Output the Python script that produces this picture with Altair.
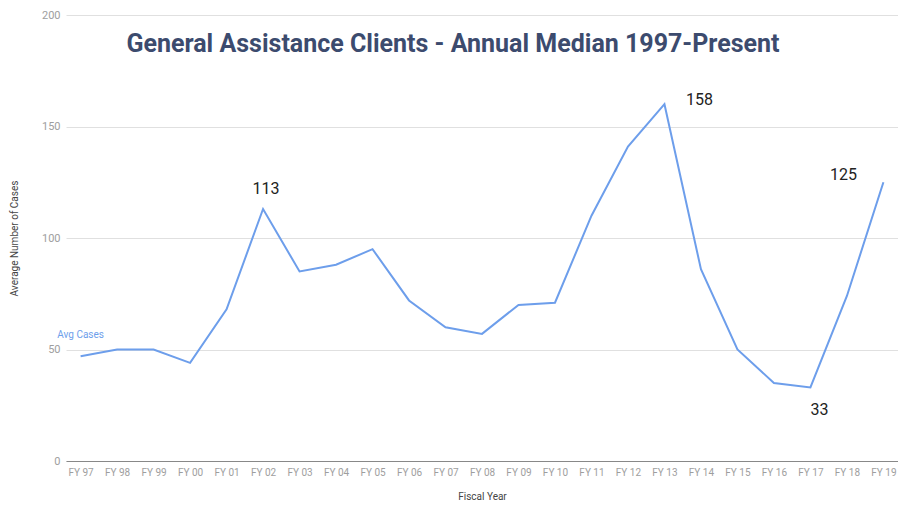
import altair as alt
import pandas as pd

years = ["FY 97", "FY 98", "FY 99", "FY 00", "FY 01", "FY 02", "FY 03", "FY 04",
         "FY 05", "FY 06", "FY 07", "FY 08", "FY 09", "FY 10", "FY 11", "FY 12",
         "FY 13", "FY 14", "FY 15", "FY 16", "FY 17", "FY 18", "FY 19"]
cases = [47, 50, 50, 44, 68, 113, 85, 88, 95, 72, 60, 57, 70, 71, 110, 141,
         160, 86, 50, 35, 33, 74, 125]

ann_years = ["FY 02", "FY 13", "FY 17", "FY 19"]
ann_values = [113, 160, 33, 125]
ann_text = ["113", "158", "33", "125"]

df = pd.DataFrame({"year": years, "cases": cases})
ann = pd.DataFrame({"year": ann_years, "cases": ann_values, "label": ann_text})

FONT = "Roboto"
LINE = "#6d9eeb"

x = alt.X("year:N", sort=years, scale=alt.Scale(type="point", padding=0.4),
          axis=alt.Axis(title="Fiscal Year", labelAngle=0, labelColor="#9e9e9e",
                        labelFontSize=10, titleFontSize=10, titleColor="#444",
                        titleFontWeight="normal", ticks=False, domainColor="#888",
                        labelPadding=6, titlePadding=14, grid=False))
y = alt.Y("cases:Q", scale=alt.Scale(domain=[0, 200]),
          axis=alt.Axis(title="Average Number of Cases", values=[0, 50, 100, 150, 200],
                        labelColor="#9e9e9e", labelFontSize=11, titleFontSize=10,
                        titleColor="#444", titleFontWeight="normal", ticks=False,
                        domain=False, gridColor="#e0e0e0", labelPadding=6,
                        titlePadding=22))

base = alt.Chart(df)
line = base.mark_line(color=LINE, strokeWidth=2).encode(x=x, y=y)

series_label = base.transform_filter(alt.datum.year == years[0]).mark_text(
    text="Avg Cases", color=LINE, font=FONT, fontSize=10, dy=-21, dx=0
).encode(x=x, y=y)

annb = alt.Chart(ann)
def lab(yr, dx, dy):
    return annb.transform_filter(alt.datum.year == yr).mark_text(
        font=FONT, fontSize=16, color="#222", dx=dx, dy=dy
    ).encode(x=x, y=y, text="label:N")

labels = [lab("FY 02", 3, -20), lab("FY 13", 35, -4), lab("FY 17", 9, 23), lab("FY 19", -40, -7)]

chart = alt.layer(line, series_label, *labels).properties(
    width=832, height=446,
    padding={"left": 58, "top": 7, "right": 0, "bottom": 40},
    autosize=alt.AutoSizeParams(type="none"),
    title=alt.TitleParams("General Assistance Clients - Annual Median 1997-Present",
                          font=FONT, fontSize=25, fontWeight="bold", color="#3c4b6e",
                          anchor="middle", offset=-48, dx=-29),
).configure_view(stroke=None).configure_axis(labelFont=FONT, titleFont=FONT)

chart.save("out.html", embed_options={"renderer": "svg", "actions": False})
